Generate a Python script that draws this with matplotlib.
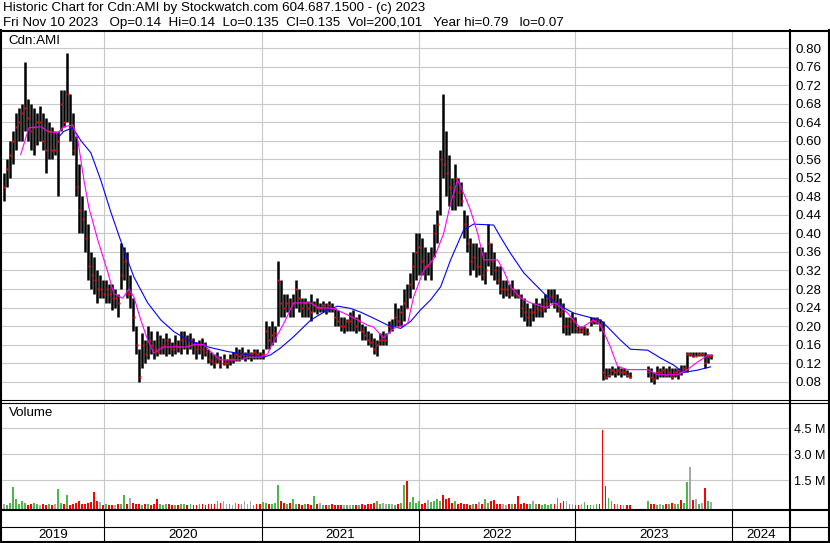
import numpy as np
import matplotlib
matplotlib.use('Agg')
import matplotlib.pyplot as plt
import matplotlib.dates as mdates
from matplotlib.lines import Line2D

plt.rcParams['font.family'] = ['Liberation Sans', 'DejaVu Sans']

# weekly bars, first one on this date
start = '2019-05-12'

high = [0.53, 0.56, 0.60, 0.62, 0.66, 0.67, 0.68, 0.77, 0.69, 0.68,
        0.67, 0.66, 0.675, 0.66, 0.65, 0.64, 0.63, 0.62, 0.62, 0.71,
        0.71, 0.79, 0.70, 0.66, 0.61, 0.55, 0.48, 0.45, 0.42, 0.36,
        0.35, 0.32, 0.31, 0.30, 0.30, 0.29, 0.29, 0.28, 0.27, 0.38,
        0.37, 0.36, 0.31, 0.26, 0.20, 0.15, 0.185, 0.17, 0.20, 0.19,
        0.17, 0.19, 0.18, 0.175, 0.185, 0.175, 0.165, 0.18, 0.17, 0.19,
        0.19, 0.18, 0.185, 0.175, 0.165, 0.17, 0.175, 0.165, 0.15, 0.145,
        0.14, 0.145, 0.135, 0.14, 0.13, 0.14, 0.145, 0.155, 0.15, 0.155,
        0.145, 0.15, 0.145, 0.15, 0.15, 0.145, 0.15, 0.21, 0.20, 0.21,
        0.20, 0.34, 0.30, 0.27, 0.27, 0.26, 0.27, 0.30, 0.28, 0.26,
        0.26, 0.255, 0.27, 0.255, 0.26, 0.25, 0.255, 0.25, 0.255, 0.25,
        0.24, 0.235, 0.22, 0.22, 0.215, 0.23, 0.235, 0.22, 0.225, 0.205,
        0.20, 0.19, 0.185, 0.175, 0.17, 0.185, 0.19, 0.185, 0.21, 0.215,
        0.25, 0.24, 0.245, 0.28, 0.29, 0.315, 0.36, 0.40, 0.40, 0.39,
        0.37, 0.36, 0.37, 0.42, 0.45, 0.58, 0.70, 0.62, 0.57, 0.52,
        0.55, 0.52, 0.51, 0.45, 0.44, 0.39, 0.38, 0.38, 0.37, 0.37,
        0.36, 0.42, 0.38, 0.36, 0.33, 0.33, 0.30, 0.30, 0.29, 0.30,
        0.28, 0.28, 0.27, 0.26, 0.25, 0.24, 0.25, 0.26, 0.25, 0.26,
        0.27, 0.28, 0.28, 0.28, 0.27, 0.26, 0.25, 0.22, 0.22, 0.23,
        0.22, 0.20, 0.20, 0.20, 0.195, 0.22, 0.22, 0.22, 0.215, 0.21,
        0.11, 0.11, 0.113, 0.11, 0.113, 0.11, 0.11, 0.105, 0.10, None,
        None, None, None, None, 0.113, 0.11, 0.10, 0.113, 0.11, 0.113,
        0.11, 0.113, 0.11, 0.11, 0.11, 0.115, 0.115, 0.145, 0.145, 0.145,
        0.145, 0.145, 0.145, 0.145, 0.14, 0.14]

low = [0.47, 0.50, 0.52, 0.55, 0.58, 0.60, 0.60, 0.62, 0.60, 0.58,
       0.57, 0.59, 0.60, 0.58, 0.53, 0.56, 0.56, 0.57, 0.48, 0.62,
       0.63, 0.64, 0.60, 0.57, 0.48, 0.40, 0.40, 0.36, 0.30, 0.28,
       0.27, 0.25, 0.26, 0.26, 0.25, 0.25, 0.235, 0.24, 0.22, 0.28,
       0.30, 0.26, 0.24, 0.19, 0.14, 0.08, 0.11, 0.12, 0.13, 0.14,
       0.13, 0.135, 0.14, 0.14, 0.135, 0.14, 0.135, 0.14, 0.145, 0.14,
       0.15, 0.14, 0.15, 0.14, 0.13, 0.14, 0.13, 0.135, 0.12, 0.115,
       0.11, 0.12, 0.11, 0.115, 0.11, 0.115, 0.12, 0.125, 0.125, 0.13,
       0.125, 0.13, 0.125, 0.13, 0.13, 0.13, 0.13, 0.15, 0.15, 0.16,
       0.165, 0.20, 0.22, 0.22, 0.23, 0.22, 0.22, 0.24, 0.23, 0.22,
       0.22, 0.22, 0.21, 0.23, 0.225, 0.23, 0.23, 0.225, 0.23, 0.23,
       0.20, 0.20, 0.19, 0.185, 0.19, 0.19, 0.19, 0.185, 0.19, 0.17,
       0.17, 0.16, 0.155, 0.14, 0.135, 0.16, 0.16, 0.16, 0.185, 0.19,
       0.20, 0.20, 0.20, 0.21, 0.24, 0.26, 0.28, 0.30, 0.31, 0.31,
       0.30, 0.31, 0.30, 0.35, 0.38, 0.44, 0.52, 0.48, 0.46, 0.45,
       0.45, 0.46, 0.46, 0.39, 0.36, 0.31, 0.32, 0.305, 0.31, 0.30,
       0.29, 0.33, 0.31, 0.30, 0.29, 0.27, 0.26, 0.265, 0.26, 0.265,
       0.26, 0.26, 0.22, 0.21, 0.20, 0.20, 0.21, 0.22, 0.22, 0.22,
       0.23, 0.24, 0.25, 0.24, 0.23, 0.22, 0.185, 0.18, 0.18, 0.185,
       0.185, 0.185, 0.185, 0.18, 0.18, 0.20, 0.205, 0.205, 0.19, 0.083,
       0.085, 0.09, 0.095, 0.09, 0.095, 0.09, 0.095, 0.09, 0.088, None,
       None, None, None, None, 0.09, 0.08, 0.075, 0.085, 0.09, 0.09,
       0.09, 0.09, 0.085, 0.09, 0.085, 0.095, 0.10, 0.10, 0.135, 0.133,
       0.135, 0.135, 0.135, 0.11, 0.12, 0.13]

close = [0.50, 0.54, 0.57, 0.60, 0.63, 0.64, 0.66, 0.67, 0.65, 0.62,
         0.63, 0.64, 0.64, 0.60, 0.58, 0.62, 0.58, 0.58, 0.60, 0.68,
         0.64, 0.70, 0.63, 0.58, 0.50, 0.45, 0.43, 0.39, 0.33, 0.31,
         0.30, 0.28, 0.28, 0.27, 0.28, 0.27, 0.26, 0.26, 0.25, 0.31,
         0.34, 0.27, 0.27, 0.22, 0.16, 0.09, 0.16, 0.14, 0.17, 0.16,
         0.15, 0.145, 0.155, 0.16, 0.17, 0.155, 0.15, 0.16, 0.155, 0.17,
         0.175, 0.16, 0.17, 0.16, 0.15, 0.16, 0.15, 0.145, 0.13, 0.125,
         0.12, 0.13, 0.12, 0.12, 0.12, 0.13, 0.13, 0.14, 0.135, 0.14,
         0.14, 0.14, 0.14, 0.145, 0.14, 0.135, 0.14, 0.19, 0.17, 0.18,
         0.185, 0.30, 0.25, 0.24, 0.25, 0.24, 0.25, 0.28, 0.26, 0.24,
         0.25, 0.24, 0.23, 0.245, 0.24, 0.24, 0.245, 0.235, 0.245, 0.24,
         0.22, 0.21, 0.20, 0.20, 0.21, 0.21, 0.22, 0.20, 0.21, 0.19,
         0.18, 0.17, 0.165, 0.15, 0.16, 0.17, 0.17, 0.17, 0.20, 0.20,
         0.22, 0.21, 0.23, 0.25, 0.24, 0.29, 0.33, 0.36, 0.37, 0.34,
         0.33, 0.33, 0.34, 0.40, 0.42, 0.56, 0.55, 0.53, 0.50, 0.48,
         0.52, 0.49, 0.47, 0.42, 0.38, 0.34, 0.35, 0.33, 0.33, 0.31,
         0.32, 0.38, 0.34, 0.32, 0.30, 0.28, 0.28, 0.28, 0.27, 0.28,
         0.27, 0.265, 0.24, 0.23, 0.22, 0.23, 0.23, 0.24, 0.235, 0.24,
         0.25, 0.26, 0.265, 0.245, 0.25, 0.23, 0.20, 0.20, 0.21, 0.21,
         0.195, 0.19, 0.19, 0.195, 0.185, 0.21, 0.21, 0.215, 0.20, 0.10,
         0.09, 0.095, 0.105, 0.10, 0.105, 0.10, 0.10, 0.095, 0.09, None,
         None, None, None, None, 0.10, 0.09, 0.085, 0.10, 0.10, 0.105,
         0.095, 0.10, 0.09, 0.10, 0.105, 0.10, 0.11, 0.14, 0.14, 0.135,
         0.135, 0.14, 0.14, 0.12, 0.135, 0.135]

# volume in millions
volume = [0.15, 0.10, 0.20, 1.10, 0.45, 0.15, 0.30, 0.20, 0.10, 0.15,
          0.20, 0.12, 0.10, 0.15, 0.08, 0.12, 0.10, 0.15, 1.00, 0.20,
          0.15, 0.65, 0.10, 0.15, 0.20, 0.30, 0.15, 0.12, 0.20, 0.25,
          0.85, 0.30, 0.25, 0.10, 0.15, 0.10, 0.08, 0.10, 0.12, 0.15,
          0.65, 0.15, 0.50, 0.20, 0.15, 0.12, 0.10, 0.15, 0.12, 0.10,
          0.15, 0.40, 0.12, 0.10, 0.15, 0.12, 0.10, 0.08, 0.10, 0.12,
          0.15, 0.10, 0.12, 0.08, 0.10, 0.15, 0.12, 0.10, 0.15, 0.12,
          0.15, 0.30, 0.20, 0.30, 0.15, 0.12, 0.10, 0.20, 0.15, 0.12,
          0.30, 0.15, 0.30, 0.10, 0.12, 0.15, 0.25, 0.20, 0.15, 0.12,
          0.20, 1.25, 0.30, 0.20, 0.15, 0.20, 0.40, 0.15, 0.12, 0.10,
          0.15, 0.12, 0.10, 0.60, 0.12, 0.20, 0.10, 0.08, 0.10, 0.12,
          0.08, 0.10, 0.08, 0.06, 0.08, 0.06, 0.08, 0.10, 0.08, 0.12,
          0.10, 0.15, 0.12, 0.20, 0.30, 0.15, 0.20, 0.15, 0.12, 0.15,
          0.10, 0.12, 0.20, 1.25, 1.45, 0.25, 0.55, 0.20, 0.30, 0.15,
          0.20, 0.35, 0.25, 0.30, 0.45, 0.30, 0.65, 0.40, 0.50, 0.20,
          0.30, 0.15, 0.20, 0.12, 0.15, 0.10, 0.12, 0.15, 0.25, 0.15,
          0.40, 0.20, 0.30, 0.35, 0.15, 0.12, 0.15, 0.10, 0.12, 0.15,
          0.12, 0.60, 0.15, 0.20, 0.15, 0.12, 0.30, 0.15, 0.12, 0.10,
          0.12, 0.10, 0.15, 0.12, 0.50, 0.20, 0.30, 0.30, 0.15, 0.12,
          0.10, 0.08, 0.12, 0.25, 0.10, 0.08, 0.10, 0.12, 0.15, 4.40,
          1.15, 0.50, 0.30, 0.15, 0.12, 0.10, 0.08, 0.10, 0.06, None,
          None, None, None, None, 0.30, 0.12, 0.15, 0.10, 0.12, 0.10,
          0.15, 0.12, 0.20, 0.15, 0.12, 0.35, 0.20, 1.40, 2.30, 0.35,
          0.40, 0.15, 0.20, 1.05, 0.30, 0.25]

# moving averages, read at (week number, price)
ma_short_wk = [5.6, 8.3, 12.3, 14.6, 17.9, 19.9, 22.9, 24.6, 26.6, 28.2,
               31.2, 34.6, 36.5, 39.5, 41.5, 43.2, 45.5, 47.8, 49.8, 53.2,
               61.1, 63.1, 66.4, 69.8, 72.1, 78.7, 81.1, 85.4, 87.7, 88.7,
               93.0, 96.3, 102.0, 104.3, 109.6, 114.3, 117.6, 120.9, 122.9, 126.2,
               129.6, 134.2, 136.2, 139.5, 142.9, 146.2, 148.5, 150.8, 152.8, 155.1,
               157.5, 159.5, 164.1, 166.1, 168.4, 171.8, 175.1, 180.1, 183.4, 187.4,
               191.7, 196.0, 198.3, 201.6, 204.0, 207.3, 214.0, 217.3, 223.9, 227.2,
               229.2, 233.9, 235.5]
ma_short = [0.57, 0.628, 0.63, 0.62, 0.617, 0.63, 0.634, 0.60, 0.515, 0.457,
            0.386, 0.315, 0.27, 0.26, 0.28, 0.263, 0.213, 0.17, 0.142, 0.155,
            0.155, 0.16, 0.16, 0.138, 0.127, 0.127, 0.133, 0.133, 0.14, 0.155,
            0.205, 0.25, 0.25, 0.24, 0.238, 0.224, 0.213, 0.202, 0.198, 0.174,
            0.195, 0.205, 0.263, 0.32, 0.345, 0.40, 0.465, 0.515, 0.487, 0.45,
            0.40, 0.343, 0.343, 0.32, 0.285, 0.26, 0.25, 0.24, 0.25, 0.228,
            0.195, 0.213, 0.203, 0.155, 0.113, 0.106, 0.106, 0.095, 0.095, 0.106,
            0.116, 0.137, 0.137]

ma_long_wk = [17.9, 19.9, 22.9, 25.6, 28.9, 32.2, 35.5, 39.9, 43.2, 47.8,
              52.2, 56.5, 61.1, 67.8, 74.4, 81.1, 86.4, 88.7, 92.0, 96.3,
              102.0, 107.6, 111.0, 115.3, 118.6, 122.9, 127.6, 131.9, 135.2, 138.5,
              141.9, 145.2, 148.5, 152.8, 156.1, 162.8, 165.1, 168.4, 172.8, 176.1,
              180.7, 186.0, 189.4, 194.0, 198.3, 201.6, 204.9, 208.3, 214.0, 218.3,
              222.6, 225.9, 230.6, 234.9]
ma_long = [0.606, 0.62, 0.628, 0.60, 0.574, 0.515, 0.447, 0.364, 0.306, 0.25,
           0.213, 0.188, 0.17, 0.155, 0.145, 0.138, 0.133, 0.138, 0.153, 0.177,
           0.213, 0.235, 0.243, 0.238, 0.23, 0.217, 0.202, 0.195, 0.21, 0.235,
           0.257, 0.285, 0.343, 0.407, 0.42, 0.418, 0.392, 0.357, 0.315, 0.293,
           0.263, 0.24, 0.228, 0.22, 0.213, 0.192, 0.17, 0.15, 0.148, 0.131,
           0.116, 0.10, 0.105, 0.112]

price_ticks = [0.08, 0.12, 0.16, 0.20, 0.24, 0.28, 0.32, 0.36, 0.40, 0.44,
               0.48, 0.52, 0.56, 0.60, 0.64, 0.68, 0.72, 0.76, 0.80]
vol_ticks = [1.5, 3.0, 4.5]
vol_labels = ['1.5 M', '3.0 M', '4.5 M']
years = [2019, 2020, 2021, 2022, 2023, 2024]

header1 = 'Historic Chart for Cdn:AMI by Stockwatch.com 604.687.1500 - (c) 2023'
header2 = ('Fri Nov 10 2023   Op=0.14  Hi=0.14  Lo=0.135  Cl=0.135  '
           'Vol=200,101   Year hi=0.79   lo=0.07')

high = np.array(high, dtype=float)
low = np.array(low, dtype=float)
close = np.array(close, dtype=float)
volume = np.array(volume, dtype=float)

t0 = mdates.datestr2num(start)
x = t0 + 7 * np.arange(len(close))
ok = ~np.isnan(close)

# volume colours: up green, down red, unchanged grey
vcol = []
prev = None
for c in close:
    if np.isnan(c):
        vcol.append('none')
        continue
    if prev is None or c == prev:
        vcol.append('#a8a8a8')
    elif c > prev:
        vcol.append('#4cb84c')
    else:
        vcol.append('#ff0000')
    prev = c
vcol = np.array(vcol)

W, H = 830, 543
FS = 9.6
fig = plt.figure(figsize=(W / 100, H / 100), dpi=100)


def box(x0, y0, x1, y1):
    return (x0 / W, 1 - y1 / H, (x1 - x0) / W, (y1 - y0) / H)


def hline(y, x0=0, x1=W, lw=1.0):
    fig.add_artist(Line2D([x0 / W, x1 / W], [1 - y / H, 1 - y / H],
                          transform=fig.transFigure, color='black', lw=lw))


def vline(xp, y0, y1, lw=1.0):
    fig.add_artist(Line2D([xp / W, xp / W], [1 - y0 / H, 1 - y1 / H],
                          transform=fig.transFigure, color='black', lw=lw))


xmin = mdates.datestr2num('2019-05-07 14:00')
xmax = mdates.datestr2num('2024-05-14 05:00')
year_x = [mdates.datestr2num(f'{y}-01-01') for y in years[1:]]
grid_c = '#c8c8c8'

# price panel
ax = fig.add_axes(box(2, 31, 790, 400))
ax.set_xlim(xmin, xmax)
ax.set_ylim(0.0405, 0.8367)
for p in price_ticks:
    ax.axhline(p, color=grid_c, lw=0.8, zorder=0)
for yx in year_x:
    ax.axvline(yx, color=grid_c, lw=0.8, zorder=0)
ax.vlines(x[ok], low[ok], high[ok], color='black', lw=1.8, zorder=2)
ax.plot(x[ok] + 1.0, close[ok], 's', ms=1.6, color='red', mec='none', zorder=3)
ax.plot(t0 + 7 * np.array(ma_long_wk), ma_long, color='#0000ff', lw=0.8, zorder=4)
ax.plot(t0 + 7 * np.array(ma_short_wk), ma_short, color='#ff00ff', lw=0.8, zorder=4)
ax.yaxis.tick_right()
ax.set_yticks(price_ticks)
ax.set_yticklabels([f'{p:.2f}' for p in price_ticks], fontsize=FS)
ax.tick_params(axis='y', length=0, pad=4)
ax.set_xticks([])
for s in ax.spines.values():
    s.set_visible(False)
fig.text(8 / W, 1 - 41 / H, 'Cdn:AMI', fontsize=FS, va='center')

# volume panel
axv = fig.add_axes(box(2, 402, 790, 509))
axv.set_xlim(xmin, xmax)
axv.set_ylim(-0.15, 6.02)
for v in vol_ticks:
    axv.axhline(v, color=grid_c, lw=0.8, zorder=0)
for yx in year_x:
    axv.axvline(yx, color=grid_c, lw=0.8, zorder=0)
vok = ~np.isnan(volume)
axv.bar(x[vok], volume[vok] + 0.15, bottom=-0.15, width=4.2,
        color=vcol[vok], lw=0, zorder=2)
axv.yaxis.tick_right()
axv.set_yticks(vol_ticks)
axv.set_yticklabels(vol_labels, fontsize=9.1)
axv.tick_params(axis='y', length=0, pad=3)
axv.set_xticks([])
for s in axv.spines.values():
    s.set_visible(False)
fig.text(9 / W, 1 - 413 / H, 'Volume', fontsize=FS, va='center')

# date strip
axd = fig.add_axes(box(2, 509, 790, 541))
axd.set_xlim(xmin, xmax)
axd.set_ylim(0, 1)
axd.axis('off')
edges = [xmin] + year_x + [xmax]
for i, y in enumerate(years):
    axd.text((edges[i] + edges[i + 1]) / 2, 0.2, str(y), ha='center',
             va='center', fontsize=FS)
for yx in year_x:
    axd.axvline(yx, color='black', lw=0.8)

# header
fig.text(3 / W, 1 - 8.5 / H, header1, fontsize=FS, va='center')
fig.text(3 / W, 1 - 23 / H, header2, fontsize=FS, va='center')

# frame lines
hline(30.5, lw=1.5)
hline(400, lw=0.8)
hline(402.5, lw=0.8)
hline(509.5, lw=1.5)
hline(527, lw=0.8)
hline(541.5, lw=1.5)
vline(1, 30, 543, lw=1.5)
vline(790, 30, 543, lw=1.5)
vline(829, 30, 543, lw=1.5)

fig.savefig('out.png', dpi=100)
